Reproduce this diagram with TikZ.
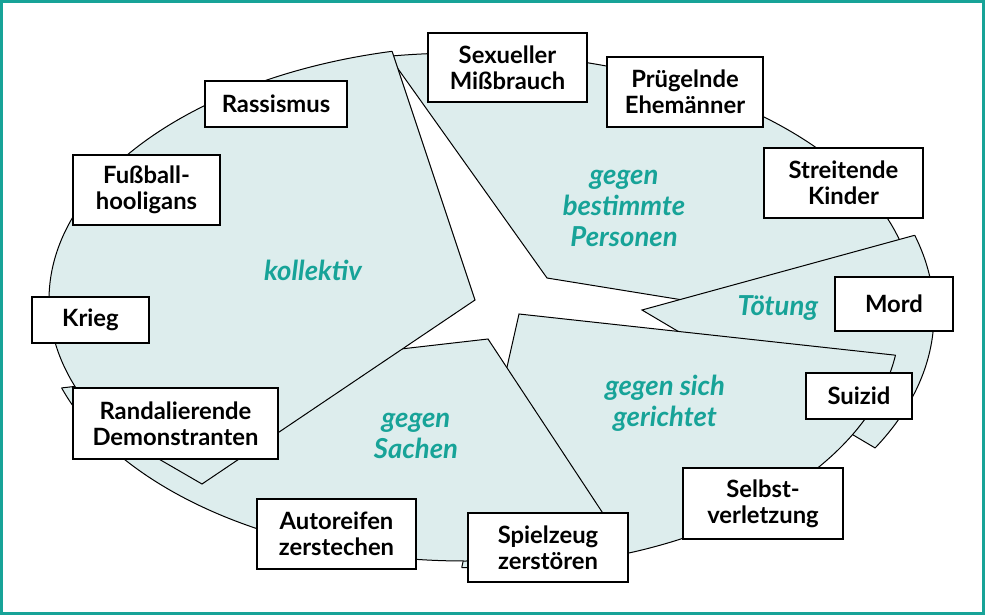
\documentclass[tikz,border=0pt]{standalone}
\usepackage{fontspec}
\setmainfont{Lato}
\definecolor{tealtxt}{RGB}{23,163,152}
\definecolor{pfill}{RGB}{221,237,237}
\tikzset{
  pline/.style={draw=black,line width=1pt,line join=miter},
  vbox/.style={draw=black,line width=1.5pt,fill=white,align=center,inner sep=0pt,
    font=\fontsize{23.8}{26}\selectfont\bfseries},
  vlab/.style={text=tealtxt,align=center,inner sep=0pt,
    font=\fontsize{27.5}{31}\selectfont\bfseries\itshape},
}
\newcommand\drawpiece[2]{%
  \begin{scope}\clip #1; \fill[pfill] #2; \draw[pline] #2; \end{scope}
  \begin{scope}\clip #2; \draw[pline] #1; \end{scope}
}
\begin{document}
\begin{tikzpicture}[x=1pt,y=-1pt]
\useasboundingbox (0,0) rectangle (985,615);
% pieces (bottom to top)
\drawpiece{(547,278) -- (349,0) -- (985,0) -- (985,349) -- cycle}
          {(462,303) ellipse [x radius=452pt, y radius=250pt]}
\drawpiece{(642,310) -- (985,216) -- (985,513) -- cycle}
          {(504,314) ellipse [x radius=430pt, y radius=265pt]}
\drawpiece{(519,314) -- (985,365) -- (985,615) -- (451,615) -- cycle}
          {(488,318) ellipse [x radius=412pt, y radius=250pt]}
\drawpiece{(488,339) -- (0,395) -- (0,615) -- (670,615) -- cycle}
          {(465,308) ellipse [x radius=425pt, y radius=253pt]}
\drawpiece{(475,300) -- (375,0) -- (0,0) -- (0,367) -- (202,484) -- cycle}
          {(490,300) ellipse [x radius=441pt, y radius=255pt]}
% labels
\node[vlab] (lkol) at (313,270) {kollektiv};
\node[vlab] (lpers) at (624,208) {gegen\\bestimmte\\Personen};
\node[vlab] (ltoet) at (778,308) {Tötung};
\node[vlab] (lsich) at (665,403) {gegen sich\\gerichtet};
\node[vlab] (lsach) at (416,436) {gegen\\Sachen};
% boxes
\node[vbox,minimum width=159pt,minimum height=69pt] (sex) at (507.5,67.5) {Sexueller\\Mißbrauch};
\node[vbox,minimum width=156pt,minimum height=70pt] (pruegel) at (685,92) {Prügelnde\\Ehemänner};
\node[vbox,minimum width=159pt,minimum height=70pt] (streit) at (843.5,183) {Streitende\\Kinder};
\node[vbox,minimum width=118pt,minimum height=54pt] (mord) at (894,304) {Mord};
\node[vbox,minimum width=106pt,minimum height=46pt] (suizid) at (859,396) {Suizid};
\node[vbox,minimum width=160pt,minimum height=71pt] (selbst) at (763,503.5) {Selbst-\\verletzung};
\node[vbox,minimum width=160pt,minimum height=69pt] (spiel) at (548,547.5) {Spielzeug\\zerstören};
\node[vbox,minimum width=159pt,minimum height=70pt] (auto) at (336.5,534) {Autoreifen\\zerstechen};
\node[vbox,minimum width=205pt,minimum height=71pt] (rand) at (175.5,423.5) {Randalierende\\Demonstranten};
\node[vbox,minimum width=117pt,minimum height=46pt] (krieg) at (90.5,320) {Krieg};
\node[vbox,minimum width=147pt,minimum height=70pt] (fuss) at (146.5,190) {Fußball-\\hooligans};
\node[vbox,minimum width=142pt,minimum height=46pt] (rass) at (276,104) {Rassismus};
% frame
\draw[tealtxt,line width=3pt] (1.5,1.5) rectangle (983.5,613.5);
\end{tikzpicture}
\end{document}
